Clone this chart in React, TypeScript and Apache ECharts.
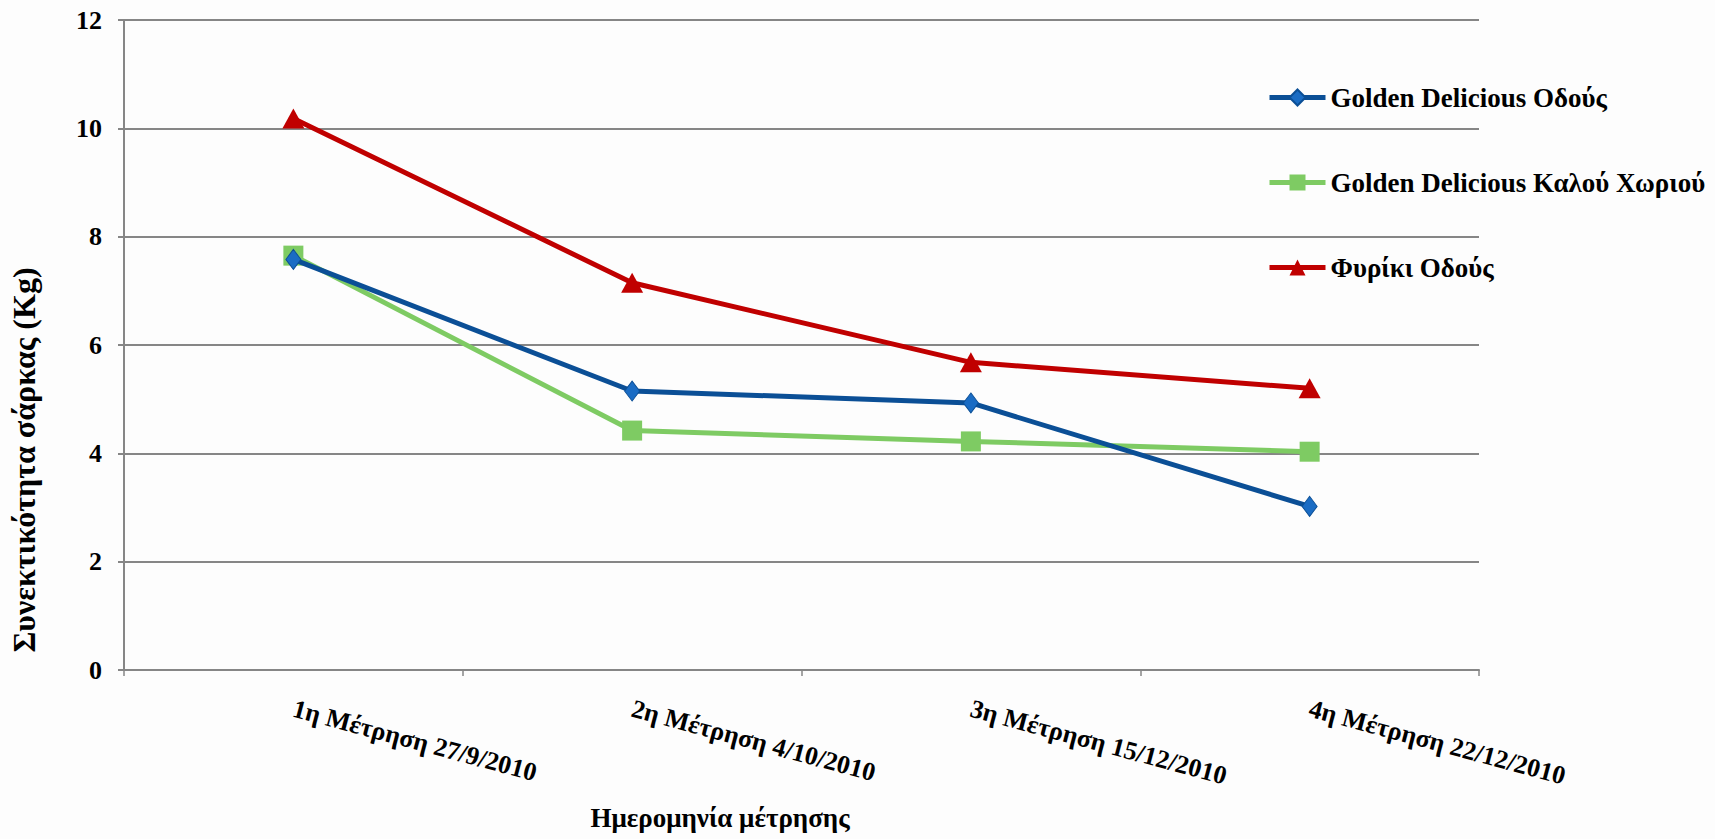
import React, { useEffect, useRef } from "react";
import * as echarts from "echarts";

const categories = [
  "1η Μέτρηση 27/9/2010",
  "2η Μέτρηση 4/10/2010",
  "3η Μέτρηση 15/12/2010",
  "4η Μέτρηση 22/12/2010",
];
const goldenOdous = [7.58, 5.15, 4.93, 3.02];
const goldenKalou = [7.65, 4.42, 4.22, 4.03];
const fyrikiOdous = [10.18, 7.15, 5.68, 5.2];
const seriesNames = [
  "Golden Delicious Οδούς",
  "Golden Delicious Καλού Χωριού",
  "Φυρίκι Οδούς",
];
const yTitle = "Συνεκτικότητα σάρκας (Kg)";
const xTitle = "Ημερομηνία μέτρησης";

const FONT = "'Liberation Serif', 'Times New Roman', serif";

export default function App() {
  const ref = useRef<HTMLDivElement>(null);
  useEffect(() => {
    if (!ref.current) return;
    const chart = echarts.init(ref.current, undefined, { renderer: "svg" });
    chart.setOption({
      animation: false,
      backgroundColor: "#fdfdfd",
      textStyle: { fontFamily: FONT },
      grid: { left: 124, right: 236, top: 20, bottom: 169, containLabel: false },
      legend: {
        orient: "vertical",
        left: 1262,
        top: 79,
        itemWidth: 56,
        itemHeight: 20,
        itemGap: 58,
        lineStyle: { width: 5 },
        textStyle: { fontFamily: FONT, fontWeight: "bold", fontSize: 27, color: "#000" },
        data: seriesNames,
      },
      xAxis: {
        type: "category",
        data: categories,
        boundaryGap: true,
        axisLine: { lineStyle: { color: "#868686", width: 2 } },
        axisTick: { show: true, length: 6, lineStyle: { color: "#868686", width: 1.5 } },
        axisLabel: {
          rotate: -15,
          margin: 38,
          interval: 0,
          fontFamily: FONT,
          fontWeight: "bold",
          fontSize: 26,
          color: "#000",
        },
      },
      yAxis: {
        type: "value",
        min: 0,
        max: 12,
        interval: 2,
        axisLine: { show: true, lineStyle: { color: "#868686", width: 2 } },
        axisTick: { show: true, length: 6, lineStyle: { color: "#868686", width: 2 } },
        splitLine: { show: true, lineStyle: { color: "#868686", width: 2 } },
        axisLabel: {
          margin: 22,
          fontFamily: FONT,
          fontWeight: "bold",
          fontSize: 26,
          color: "#000",
        },
      },
      graphic: [
        {
          type: "text",
          x: 24,
          y: 460,
          rotation: Math.PI / 2,
          style: {
            text: yTitle,
            font: `bold 32px ${FONT}`,
            fill: "#000",
            textAlign: "center",
            textVerticalAlign: "middle",
          },
        },
        {
          type: "text",
          x: 720,
          y: 818,
          style: {
            text: xTitle,
            font: `bold 27px ${FONT}`,
            fill: "#000",
            textAlign: "center",
            textVerticalAlign: "middle",
          },
        },
      ],
      series: [
        {
          name: seriesNames[0],
          type: "line",
          data: goldenOdous,
          symbol: "diamond",
          symbolSize: [15, 20],
          lineStyle: { color: "#0B4F96", width: 5 },
          itemStyle: { color: "#1A6CC4", borderColor: "#0B4F96", borderWidth: 1 },
          z: 3,
        },
        {
          name: seriesNames[1],
          type: "line",
          data: goldenKalou,
          symbol: "rect",
          symbolSize: [20, 20],
          lineStyle: { color: "#7ECB63", width: 5 },
          itemStyle: { color: "#7ECB63" },
          z: 2,
        },
        {
          name: seriesNames[2],
          type: "line",
          data: fyrikiOdous,
          symbol: "triangle",
          symbolSize: [22, 20],
          lineStyle: { color: "#C00000", width: 5 },
          itemStyle: { color: "#C00000" },
          z: 4,
        },
      ],
    });
    return () => chart.dispose();
  }, []);
  return (
    <div
      ref={ref}
      style={{ position: "fixed", left: 0, top: 0, width: 1715, height: 839 }}
    />
  );
}
